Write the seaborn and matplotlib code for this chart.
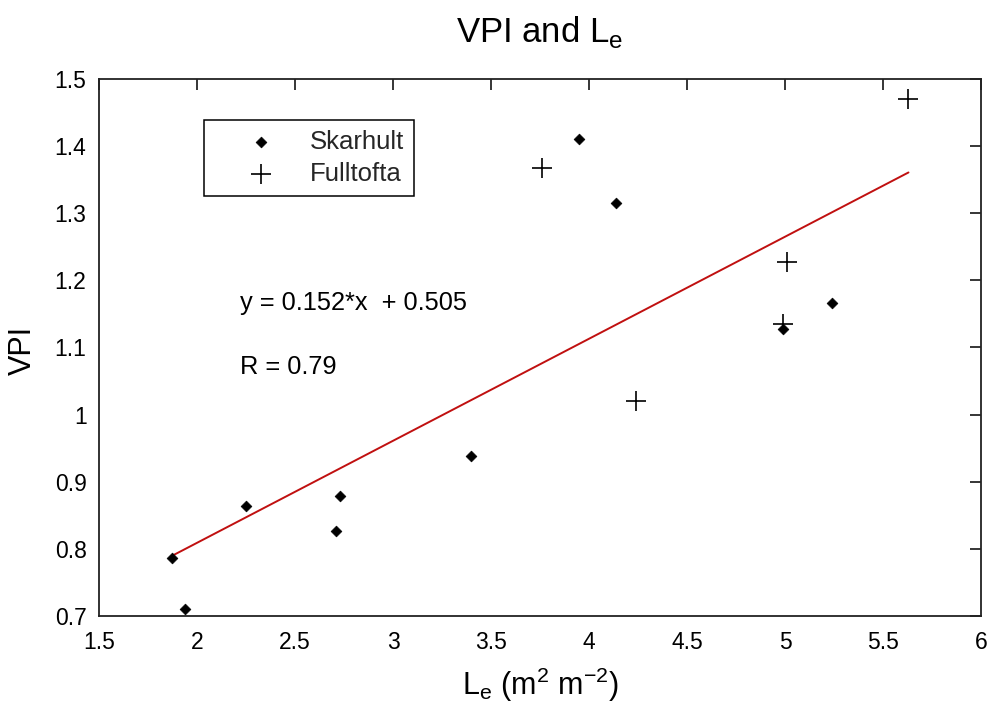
import matplotlib
matplotlib.use("Agg")
import matplotlib.pyplot as plt
import numpy as np
import pandas as pd
import seaborn as sns

# ---- data ----
skarhult_le = [1.87, 1.94, 2.25, 2.71, 2.73, 3.40, 3.95, 4.14, 4.99, 5.24]
skarhult_vpi = [0.786, 0.711, 0.864, 0.827, 0.879, 0.938, 1.410, 1.316, 1.128, 1.167]
fulltofta_le = [3.76, 4.24, 4.99, 5.01, 5.63]
fulltofta_vpi = [1.367, 1.020, 1.135, 1.228, 1.470]
fit_slope = 0.152
fit_intercept = 0.505
r_value = 0.79

x_ticks = [1.5, 2, 2.5, 3, 3.5, 4, 4.5, 5, 5.5, 6]
x_tick_labels = ["1.5", "2", "2.5", "3", "3.5", "4", "4.5", "5", "5.5", "6"]
y_ticks = [0.7, 0.8, 0.9, 1.0, 1.1, 1.2, 1.3, 1.4, 1.5]
y_tick_labels = ["0.7", "0.8", "0.9", "1", "1.1", "1.2", "1.3", "1.4", "1.5"]

sns.set_theme(style="white")
plt.rcParams["font.family"] = ["Liberation Sans", "DejaVu Sans"]

W, H = 990, 713
fig = plt.figure(figsize=(W / 100, H / 100), dpi=100)
ax = fig.add_axes([99 / W, 1 - 616 / H, (981 - 99) / W, (616 - 79) / H])

skar = pd.DataFrame({"Le": skarhult_le, "VPI": skarhult_vpi})
full = pd.DataFrame({"Le": fulltofta_le, "VPI": fulltofta_vpi})

all_le = skarhult_le + fulltofta_le
line_x = np.array([min(all_le), max(all_le)])
line = pd.DataFrame({"Le": line_x, "VPI": fit_slope * line_x + fit_intercept})
sns.lineplot(data=line, x="Le", y="VPI", ax=ax, color="#c01010", lw=1.4, zorder=2)

sns.scatterplot(data=skar, x="Le", y="VPI", ax=ax, marker="D", s=30,
                color="black", edgecolor="black", linewidth=0.5,
                label="Skarhult", zorder=3)
sns.scatterplot(data=full, x="Le", y="VPI", ax=ax, marker="+", s=190,
                color="black", linewidth=1.2, label="Fulltofta", zorder=3)

ax.set_xlim(1.5, 6)
ax.set_ylim(0.7, 1.5)
ax.set_xticks(x_ticks)
ax.set_xticklabels(x_tick_labels)
ax.set_yticks(y_ticks)
ax.set_yticklabels(y_tick_labels)
ax.tick_params(direction="in", length=8, width=1.1, top=True, right=True,
               labelsize=16.5, colors="black", pad=9)
ax.tick_params(axis="x", pad=11)
for sp in ax.spines.values():
    sp.set_color("#222222")
    sp.set_linewidth(1.3)
ax.set_xlabel("")
ax.set_ylabel("")

leg = ax.legend(loc="upper left", bbox_to_anchor=(0.119, 0.924),
                borderaxespad=0, fontsize=18.5, frameon=True, fancybox=False,
                handlelength=3.7, handletextpad=0.05, borderpad=0.38,
                labelspacing=0.33)
leg.get_frame().set_edgecolor("black")
leg.get_frame().set_linewidth(1.1)
leg.get_frame().set_alpha(1)

ax.text(2.22, 1.166, f"y = {fit_slope}*x  + {fit_intercept}", fontsize=18.3,
        va="center", ha="left", color="black")
ax.text(2.22, 1.071, f"R = {r_value}", fontsize=18.3, va="center", ha="left",
        color="black")

fig.text(540 / W, 1 - 42 / H, r"VPI and L$_\mathregular{e}$", fontsize=25,
         ha="center", va="baseline", color="black")
fig.text(540 / W, 1 - 695 / H,
         r"L$_\mathregular{e}$ (m$^\mathregular{2}$ m$^\mathregular{-2}$)",
         fontsize=22, ha="center", va="baseline", color="black")
fig.text(23 / W, 1 - 350 / H, "VPI", fontsize=22, rotation=90,
         ha="center", va="center", color="black")

fig.savefig("out.png", dpi=100, facecolor="white")
